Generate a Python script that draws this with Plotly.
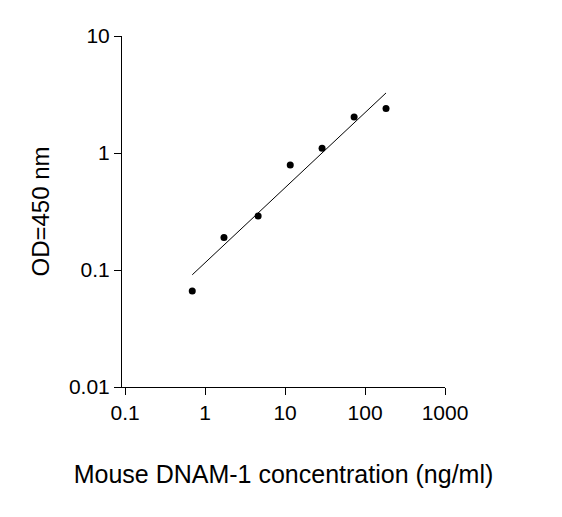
import plotly.graph_objects as go

conc = [0.69, 1.72, 4.6, 11.6, 29, 73, 183]
od = [0.066, 0.19, 0.29, 0.79, 1.1, 2.03, 2.4]
fit_x = [0.69, 183]
fit_y = [0.091, 3.26]

fig = go.Figure()
fig.add_trace(go.Scatter(x=fit_x, y=fit_y, mode="lines",
                         line=dict(color="black", width=1)))
fig.add_trace(go.Scatter(x=conc, y=od, mode="markers",
                         marker=dict(color="black", size=7)))

axis_font = dict(family="Liberation Sans, Arial", size=21, color="black")
fig.update_layout(
    width=562, height=517,
    margin=dict(l=114, r=125, t=28, b=138),
    plot_bgcolor="white", paper_bgcolor="white",
    showlegend=False,
    font=dict(family="Liberation Sans, Arial", color="black"),
    xaxis=dict(type="log", range=[-1.04, 3], tickvals=[0.1, 1, 10, 100, 1000],
               ticktext=["0.1", "1", "10", "100", "1000"],
               showgrid=False, zeroline=False, showline=True, linecolor="black",
               ticks="outside", ticklen=7, tickcolor="black", tickfont=axis_font,
               title=dict(text="Mouse DNAM-1 concentration (ng/ml)",
                          font=dict(size=25), standoff=42)),
    yaxis=dict(type="log", range=[-2, 1], tickvals=[0.01, 0.1, 1, 10],
               ticktext=["0.01", "0.1", "1", "10"],
               showgrid=False, zeroline=False, showline=True, linecolor="black",
               ticks="outside", ticklen=7, tickcolor="black", tickfont=axis_font,
               title=dict(text="OD=450 nm", font=dict(size=24), standoff=12)),
)
fig.write_html("out.html")
